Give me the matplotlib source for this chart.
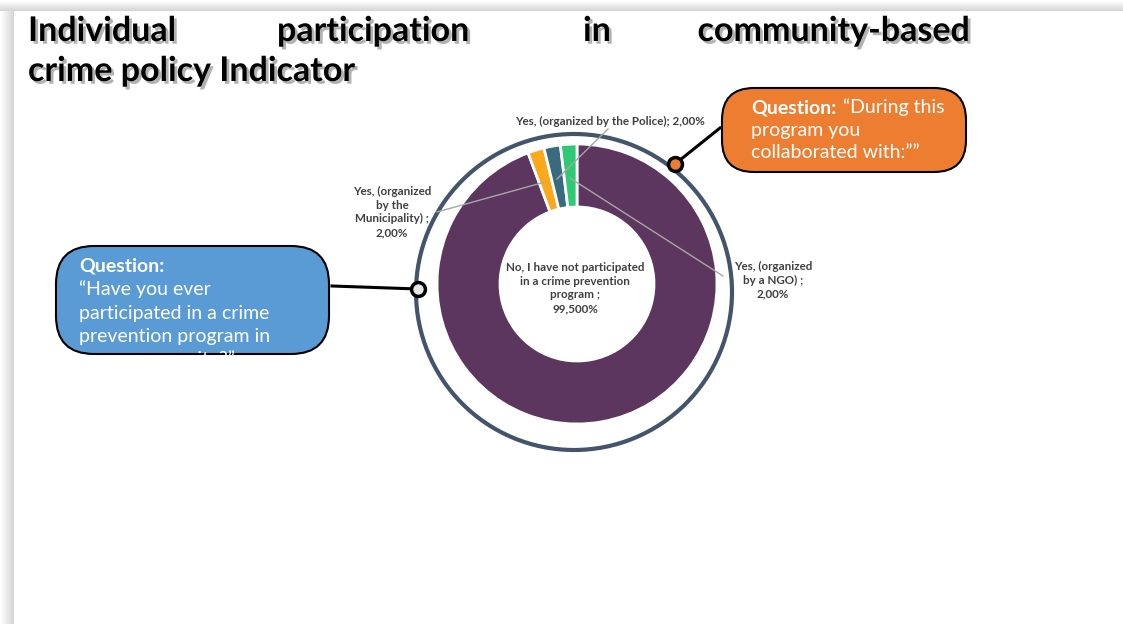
import matplotlib.pyplot as plt
import matplotlib.patheffects as pe
from matplotlib.patches import FancyBboxPatch, Circle, Rectangle

W, H = 1123, 624

# donut data
labels = [
    "No, I have not participated\nin a crime prevention\nprogram ;\n99,500%",
    "Yes, (organized\nby the\nMunicipality) ;\n2,00%",
    "Yes, (organized by the Police); 2,00%",
    "Yes, (organized\nby a NGO) ;\n2,00%",
]
values = [99.5, 2.0, 2.0, 2.0]
colors = ["#5C365E", "#FBA819", "#3A6A7E", "#2FC874"]

title_words = ["Individual", "participation", "in", "community-based"]
title_line2 = "crime policy Indicator"

q1_head = "Question:"
q1_body = "\u201cHave you ever\nparticipated in a crime\nprevention program in\nyour community?\u201d"
q2_head = "Question:"
q2_body = "\u201cDuring this\nprogram you\ncollaborated with:\u201d\u201d"

FONT = "Lato"


def py(y):
    # pixel row -> data y
    return H - y


fig = plt.figure(figsize=(W / 100, H / 100), dpi=100)
ax = fig.add_axes([0, 0, 1, 1])

# donut
cx, cy, r = 577, py(284), 140
ax.pie(values, colors=colors, startangle=90, counterclock=False,
       center=(cx, cy), radius=r, frame=True,
       wedgeprops=dict(width=63, edgecolor="white", linewidth=2))
ax.set_xlim(0, W)
ax.set_ylim(0, H)
ax.set_aspect("equal")
ax.axis("off")

# slide shadow edges
for i in range(14):
    g = 1 - 0.16 * (i / 13)
    ax.add_patch(Rectangle((i, 0), 1, H - 11, color=(g, g, g), lw=0, zorder=0))
for i in range(11):
    g = 1 - 0.16 * (i / 10)
    ax.add_patch(Rectangle((0, H - i - 1), W, 1, color=(g, g, g), lw=0, zorder=0))

# outer ring
ax.add_patch(Circle((574, py(292)), 158, fill=False, ec="#44546A", lw=3, zorder=3))

# leader lines
lead = "#A6A6A6"
ax.plot([608, 557], [py(129), py(179)], color=lead, lw=1, zorder=4)
ax.plot([437, 545], [py(212), py(182)], color=lead, lw=1, zorder=4)
ax.plot([570, 723], [py(178), py(276)], color=lead, lw=1, zorder=4)

# data labels
lab_kw = dict(fontsize=8.4, fontweight="bold", color="#404040", family=FONT,
              ha="center", va="center", linespacing=1.3, zorder=5)
ax.text(575, py(288), labels[0], **lab_kw)
ax.text(392, py(212), labels[1], **lab_kw)
ax.text(610, py(121), labels[2], **lab_kw)
ax.text(773, py(280), labels[3], **lab_kw)

# title with shadow
shadow = [pe.SimplePatchShadow(offset=(2, -2), shadow_rgbFace="#7f7f7f", alpha=0.6), pe.Normal()]
tkw = dict(fontsize=24.5, fontweight="bold", color="black", family=FONT, va="baseline", zorder=6)
xs = [28, 277, 583]
for word, x in zip(title_words[:3], xs):
    ax.text(x, py(41), word, ha="left", path_effects=shadow, **tkw)
ax.text(970, py(41), title_words[3], ha="right", path_effects=shadow, **tkw)
ax.text(28, py(81), title_line2, ha="left", path_effects=shadow, **tkw)

# orange callout
ob = FancyBboxPatch((722, py(172)), 244, 84, boxstyle="round,pad=0,rounding_size=32",
                    fc="#ED7D31", ec="black", lw=1.5, zorder=6)
ax.add_patch(ob)
ax.plot([720, 675], [py(128), py(164)], color="black", lw=2.2, zorder=6)
ax.plot(675, py(164), "o", ms=10, mfc="#ED7D31", mec="black", mew=2.5, zorder=7)
qkw = dict(fontsize=14, color="white", family=FONT, va="baseline", zorder=7)
ax.text(751, py(113), q2_head, fontweight="bold", **qkw)
ax.text(843, py(113), q2_body.split("\n")[0], **qkw)
ax.text(751, py(136), q2_body.split("\n")[1], **qkw)
ax.text(751, py(158), q2_body.split("\n")[2], **qkw)

# blue callout
bb = FancyBboxPatch((56, py(354)), 273, 108, boxstyle="round,pad=0,rounding_size=38",
                    fc="#5B9BD5", ec="black", lw=1.5, zorder=6)
ax.add_patch(bb)
ax.plot([332, 418], [py(286), py(289)], color="black", lw=2.2, zorder=6)
ax.plot(418, py(289), "o", ms=10, mfc="#E6E6E6", mec="black", mew=2.5, zorder=7)
ax.text(79, py(272), q1_head, fontweight="bold", **qkw)
for i, line in enumerate(q1_body.split("\n")):
    t = ax.text(79, py(295 + 23.5 * i), line, **qkw)
    t.set_clip_path(bb)

fig.savefig("out.png", dpi=100, facecolor="white")
